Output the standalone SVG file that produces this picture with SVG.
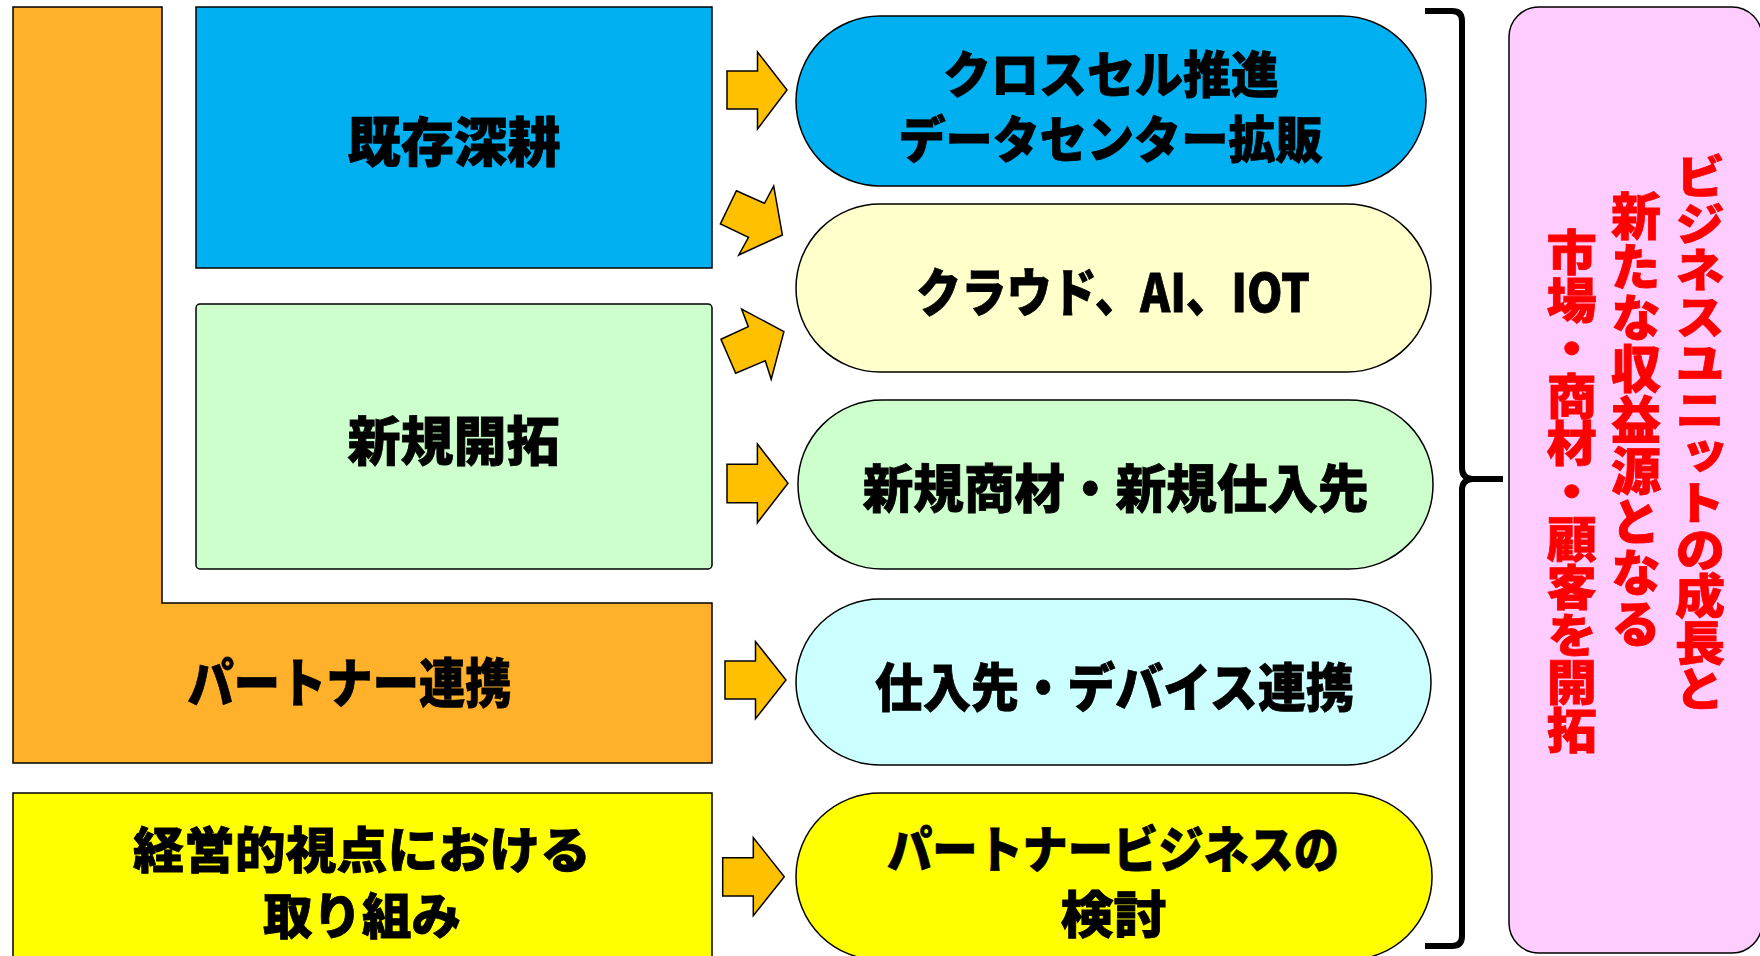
<svg xmlns="http://www.w3.org/2000/svg" width="1760" height="956" viewBox="0 0 1760 956">
<style>
.box{stroke:#000;stroke-width:1.5}
.t{font-family:"Noto Sans CJK JP","Noto Sans",sans-serif;font-weight:900;fill:#000;stroke:#000;stroke-width:0.8;text-anchor:middle}
.arr{fill:#FFC000;stroke:#000;stroke-width:1.5;stroke-linejoin:miter}
.v{font-family:"Noto Sans CJK JP","Noto Sans",sans-serif;font-weight:900;fill:#FF0000;stroke:#FF0000;stroke-width:0.8;writing-mode:vertical-rl;text-anchor:start}
</style>
<rect width="1760" height="956" fill="#fff"/>
<g id="partner">
<polygon class="box" fill="#FFB12B" points="13,7 162,7 162,603 712,603 712,763 13,763"/>
<text class="t" x="349.5" y="703" font-size="53" textLength="324" lengthAdjust="spacingAndGlyphs">パートナー連携</text>
</g>
<g id="kizon">
<rect class="box" fill="#00B0F0" x="196" y="7" width="516" height="261"/>
<text class="t" x="454" y="162" font-size="53" textLength="213" lengthAdjust="spacingAndGlyphs">既存深耕</text>
</g>
<g id="shinki">
<rect class="box" fill="#CCFFCC" x="196" y="304" width="516" height="265" rx="4"/>
<text class="t" x="453.5" y="461" font-size="53" textLength="212" lengthAdjust="spacingAndGlyphs">新規開拓</text>
</g>
<g id="keiei">
<rect class="box" fill="#FFFF00" x="13" y="793" width="699" height="180"/>
<text class="t" x="362" y="868" font-size="49" textLength="458" lengthAdjust="spacingAndGlyphs">経営的視点における</text>
<text class="t" x="362" y="934" font-size="49" textLength="198" lengthAdjust="spacingAndGlyphs">取り組み</text>
</g>
<g id="p1">
<rect class="box" fill="#00B0F0" x="796" y="16" width="630" height="170" rx="84" ry="85"/>
<text class="t" x="1111" y="93" font-size="50" textLength="336" lengthAdjust="spacingAndGlyphs">クロスセル推進</text>
<text class="t" x="1110.5" y="158" font-size="50" textLength="424" lengthAdjust="spacingAndGlyphs">データセンター拡販</text>
</g>
<g id="p2">
<rect class="box" fill="#FFFFCC" x="796" y="204" width="635" height="168" rx="84" ry="84"/>
<text class="t" x="1113" y="312" font-size="52" textLength="394" lengthAdjust="spacingAndGlyphs">クラウド、AI、IOT</text>
</g>
<g id="p3">
<rect class="box" fill="#CCFFCC" x="798" y="400" width="635" height="169" rx="84" ry="84"/>
<text class="t" x="1115.7" y="508" font-size="52" textLength="506" lengthAdjust="spacingAndGlyphs">新規商材・新規仕入先</text>
</g>
<g id="p4">
<rect class="box" fill="#CCFFFF" x="796" y="599" width="635" height="166" rx="84" ry="83"/>
<text class="t" x="1114.5" y="707" font-size="52" textLength="479" lengthAdjust="spacingAndGlyphs">仕入先・デバイス連携</text>
</g>
<g id="p5">
<rect class="box" fill="#FFFF00" x="796" y="793" width="636" height="167" rx="84" ry="83"/>
<text class="t" x="1113" y="868" font-size="50" textLength="452" lengthAdjust="spacingAndGlyphs">パートナービジネスの</text>
<text class="t" x="1113.5" y="933" font-size="50" textLength="106" lengthAdjust="spacingAndGlyphs">検討</text>
</g>
<g id="connectors">
<polygon class="arr" points="727,71 757.5,71 757.5,52 787,90 757.5,129 757.5,109 727,109"/>
<polygon class="arr" points="736.4,190.7 764.5,203.3 773.7,186 782.4,235 738.8,255 748.5,237.3 720.4,224"/>
<polygon class="arr" points="721,339.3 748.3,326.7 741.6,309 783.9,331.7 771.2,379.3 765.3,360.7 735.7,373.3"/>
<polygon class="arr" points="727,464.3 757.4,464.3 757.4,444 788,483.3 757.4,522.7 757.4,502.7 727,502.7"/>
<polygon class="arr" points="725,661 755.5,661 755.5,641.6 786,680 755.5,718.7 755.5,699 725,699"/>
<polygon class="arr" points="722.7,857.7 753.3,857.7 753.3,837.7 784.3,876.7 753.3,915.7 753.3,896 722.7,896"/>
</g>
<g id="brace">
<path d="M1425,11 H1452 Q1462,11 1462,21 V468 Q1462,478 1472,479 H1503 M1472,479 Q1462,480 1462,490 V936 Q1462,946 1452,946 H1425" fill="none" stroke="#000" stroke-width="6"/>
</g>
<g id="result">
<rect class="box" fill="#FFCCFF" x="1509" y="7" width="253" height="946" rx="30"/>
<text class="v" x="1700" y="153" font-size="50" textLength="559" lengthAdjust="spacingAndGlyphs">ビジネスユニットの成長と</text>
<text class="v" x="1636" y="190" font-size="50" textLength="459" lengthAdjust="spacingAndGlyphs">新たな収益源となる</text>
<text class="v" x="1571.7" y="228" font-size="50" textLength="526" lengthAdjust="spacingAndGlyphs">市場・商材・顧客を開拓</text>
</g>
</svg>
